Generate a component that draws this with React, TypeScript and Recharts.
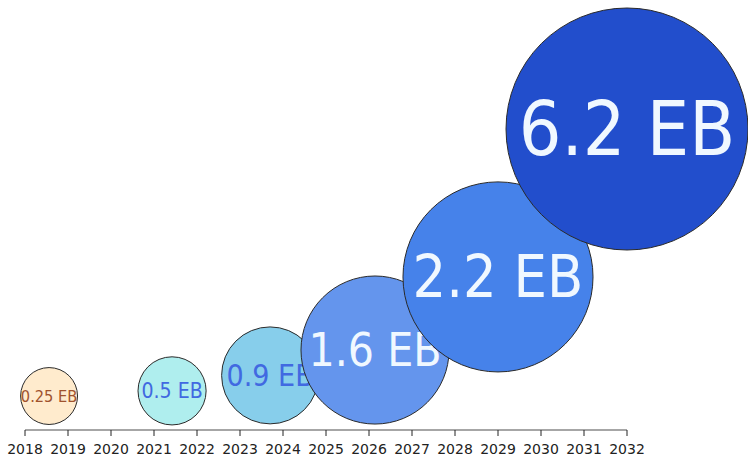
import React from 'react';
import { ScatterChart, Scatter, XAxis, YAxis, ZAxis } from 'recharts';

// bubble data
const labels = ['0.25 EB', '0.5 EB', '0.9 EB', '1.6 EB', '2.2 EB', '6.2 EB'];
const years = [2018.56, 2021.42, 2023.7, 2026.14, 2029.0, 2032.0];
const heights = [7.9, 9.1, 12.7, 18.6, 35.6, 70.0];
// relative bubble areas (as drawn, not strictly proportional to value)
const bubbleArea = [8.1, 11.6, 23.5, 54.8, 90.3, 146.4];
const yearTicks = [2018, 2019, 2020, 2021, 2022, 2023, 2024, 2025, 2026, 2027, 2028, 2029, 2030, 2031, 2032];

const fills = ['#FFEBCD', '#AFEEEE', '#87CEEB', '#6495ED', '#4682EA', '#224ECC'];
const textColors = ['#A0522D', '#4169E1', '#4169E1', '#F0F8FF', '#F0F8FF', '#F0F8FF'];

const data = labels.map((label, i) => ({ label, year: years[i], h: heights[i], z: bubbleArea[i], i }));

const Bubble = (props: any) => {
  const { cx, cy, width, payload } = props;
  const r = width / 2;
  const i = payload.i;
  const chars = payload.label.length;
  // shrink the label on small bubbles so it fits
  const fs = Math.min(0.62 * r, (2.0 * r) / (chars * 0.5), 0.6 * r + 2);
  return (
    <g>
      <circle cx={cx} cy={cy} r={r} fill={fills[i]} stroke="#2a2a2a" strokeWidth={1} />
      <text
        x={cx}
        y={cy}
        textAnchor="middle"
        dominantBaseline="central"
        fill={textColors[i]}
        fontSize={fs}
        fontFamily="'DejaVu Sans Condensed', 'DejaVu Sans', sans-serif"
      >
        {payload.label}
      </text>
    </g>
  );
};

export default function App() {
  return (
    <div style={{ position: 'absolute', left: 0, top: 0, width: 748, height: 457, background: '#fff' }}>
      <ScatterChart width={748} height={457} margin={{ top: 0, right: 121, bottom: 0, left: 25 }}>
        <XAxis
          type="number"
          dataKey="year"
          domain={[2018, 2032]}
          ticks={yearTicks}
          height={27}
          tickSize={6}
          tickMargin={8}
          axisLine={{ stroke: '#888', strokeWidth: 1.5 }}
          tickLine={{ stroke: '#222' }}
          tick={{ fill: '#222', fontSize: 14, fontFamily: "'DejaVu Sans', Verdana, sans-serif" }}
          interval={0}
          allowDecimals={false}
        />
        <YAxis type="number" dataKey="h" domain={[0, 100]} hide />
        <ZAxis type="number" dataKey="z" domain={[0, 146.4]} range={[0, Math.PI * 121 * 121]} />
        <Scatter data={data} shape={Bubble} isAnimationActive={false} />
      </ScatterChart>
    </div>
  );
}
